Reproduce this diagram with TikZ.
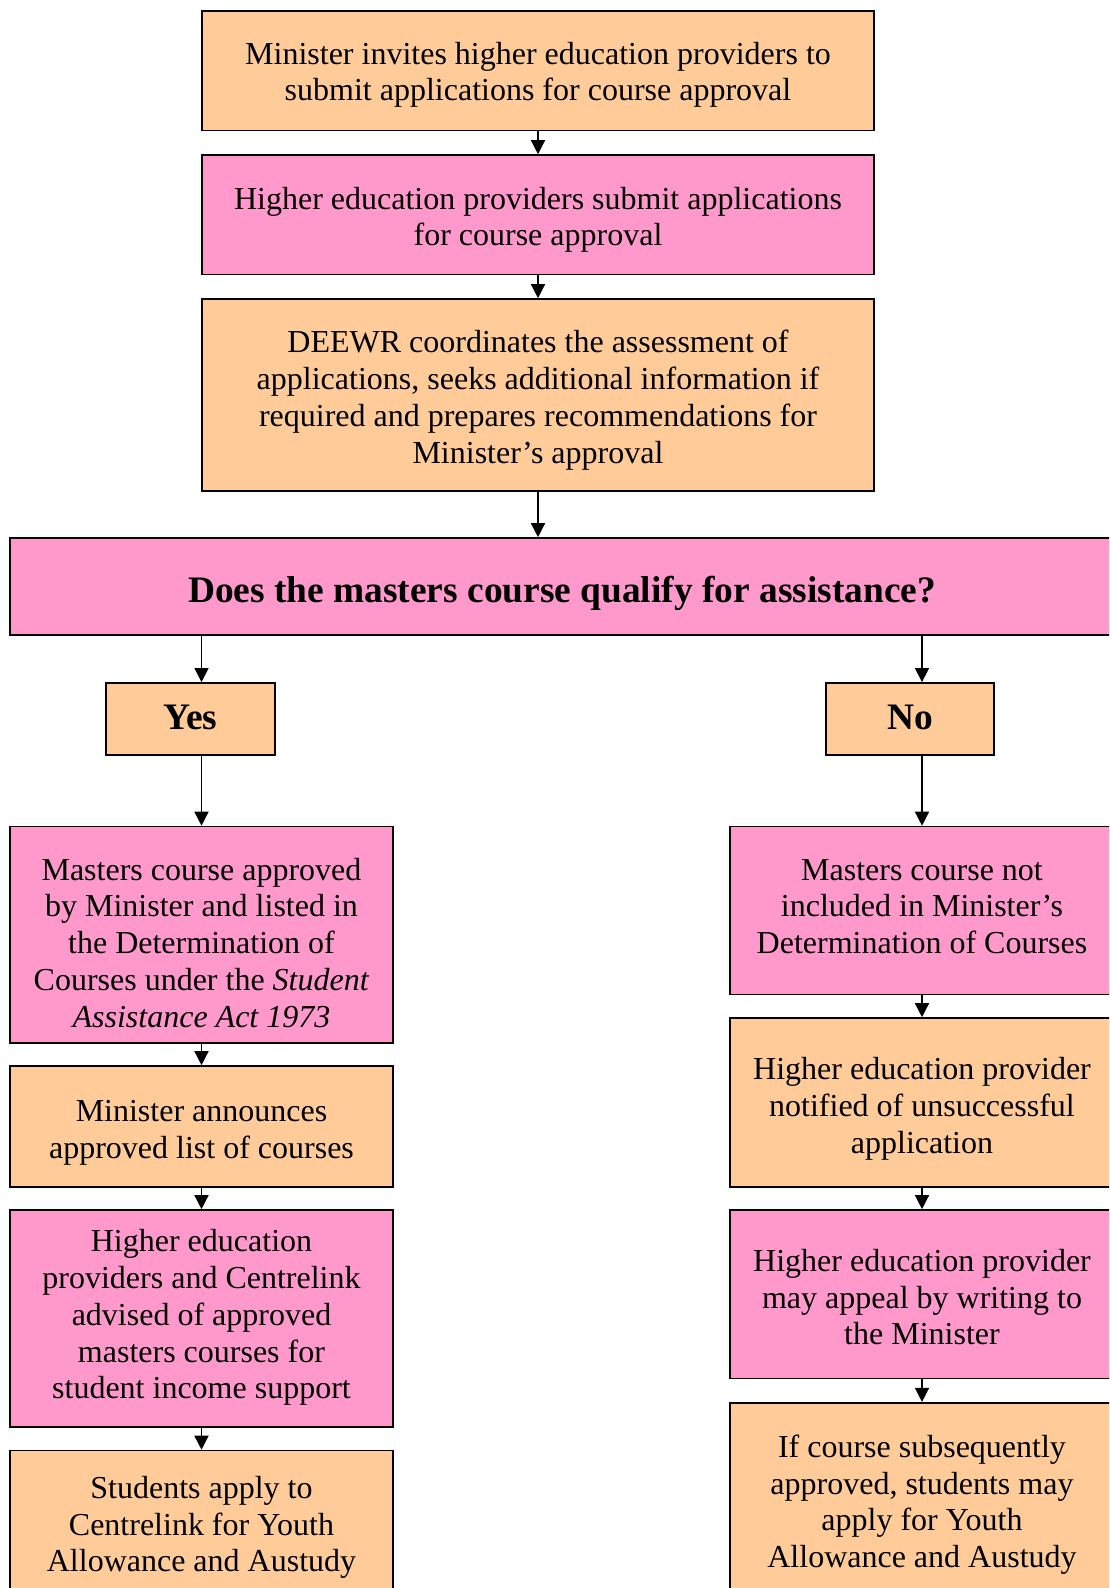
\documentclass[tikz,border=0pt]{standalone}
\usepackage{fontspec}
\setmainfont{Liberation Serif}
\usetikzlibrary{arrows.meta}
\definecolor{peach}{HTML}{FFCC99}
\definecolor{pinkbox}{HTML}{FF99CC}
\tikzset{
  basebox/.style={draw=black, line width=1.6pt, inner sep=0pt},
  pbox/.style={basebox, fill=peach},
  kbox/.style={basebox, fill=pinkbox},
  txt/.style={align=center, inner sep=0pt, font=\fontsize{32}{36.8}\selectfont},
  bigtext/.style={align=center, inner sep=0pt, font=\fontsize{37.4}{42}\selectfont\bfseries},
  arr/.style={line width=1.4pt, -{Triangle[length=14pt,width=14pt]}}
}
\begin{document}
\begin{tikzpicture}[x=1pt,y=-1pt]
\useasboundingbox (0,0) rectangle (1109,1588);
\clip (0,0) rectangle (1109,1588);
% top column
\node[pbox, minimum width=671.5pt, minimum height=119.6pt] (t1) at (538,70.8) {};
\node[txt] (t1x) at ([yshift=-4pt]t1.center)
  {Minister invites higher education providers to\\submit applications for course approval};
\node[kbox, minimum width=671.5pt, minimum height=119.5pt] (t2) at (538,214.75) {};
\node[txt] (t2x) at ([yshift=-5pt]t2.center)
  {Higher education providers submit applications\\for course approval};
\node[pbox, minimum width=671.5pt, minimum height=192pt] (t3) at (538,395) {};
\node[txt] (t3x) at ([yshift=-5pt]t3.center)
  {DEEWR coordinates the assessment of\\applications, seeks additional information if\\required and prepares recommendations for\\Minister’s approval};
% decision
\node[kbox, minimum width=1104pt, minimum height=97pt] (d) at (562,586.5) {};
\node[bigtext] (dx) at ([yshift=-7pt]d.center)
  {Does the masters course qualify for assistance?};
\node[pbox, minimum width=169pt, minimum height=72pt] (yes) at (190.3,718.9) {};
\node[bigtext] (yesx) at ([yshift=1pt]yes.center) {Yes};
\node[pbox, minimum width=168pt, minimum height=72pt] (no) at (910,718.9) {};
\node[bigtext] (nox) at ([yshift=1pt]no.center) {No};
% left column
\node[kbox, minimum width=383pt, minimum height=216.5pt] (l1) at (201.5,934.75) {};
\node[txt] (l1x) at ([yshift=-8pt]l1.center)
  {Masters course approved\\by Minister and listed in\\the Determination of\\Courses under the \textit{Student}\\\textit{Assistance Act 1973}};
\node[pbox, minimum width=383pt, minimum height=121pt] (l2) at (201.5,1126.5) {};
\node[txt] (l2x) at ([yshift=-6pt]l2.center)
  {Minister announces\\approved list of courses};
\node[kbox, minimum width=383pt, minimum height=217pt] (l3) at (201.5,1318.5) {};
\node[txt] (l3x) at ([yshift=1pt]l3.center)
  {Higher education\\providers and Centrelink\\advised of approved\\masters courses for\\student income support};
\node[pbox, minimum width=383pt, minimum height=150pt] (l4) at (201.5,1525.5) {};
\node[txt] (l4x) at ([yshift=-2pt]l4.center)
  {Students apply to\\Centrelink for Youth\\Allowance and Austudy};
% right column
\node[kbox, minimum width=384pt, minimum height=168pt] (r1) at (922,910.5) {};
\node[txt] (r1x) at ([yshift=4pt]r1.center)
  {Masters course not\\included in Minister’s\\Determination of Courses};
\node[pbox, minimum width=384pt, minimum height=169pt] (r2) at (922,1102.5) {};
\node[txt] (r2x) at ([yshift=-6pt]r2.center)
  {Higher education provider\\notified of unsuccessful\\application};
\node[kbox, minimum width=384pt, minimum height=168.5pt] (r3) at (922,1294.2) {};
\node[txt] (r3x) at ([yshift=-3pt]r3.center)
  {Higher education provider\\may appeal by writing to\\the Minister};
\node[pbox, minimum width=384pt, minimum height=197pt] (r4) at (922,1501.2) {};
\node[txt] (r4x) at ([yshift=-3.5pt]r4.center)
  {If course subsequently\\approved, students may\\apply for Youth\\Allowance and Austudy};
% connectors
\draw[arr] (t1.south) -- (t2.north);
\draw[arr] (t2.south) -- (t3.north);
\draw[arr] (t3.south) -- (t3.south |- d.north);
\draw[arr] (l1.north |- d.south) -- (l1.north |- yes.north);
\draw[arr] (l1.north |- yes.south) -- (l1.north);
\draw[arr] (l1.south) -- (l2.north);
\draw[arr] (l2.south) -- (l3.north);
\draw[arr] (l3.south) -- (l4.north);
\draw[arr] (r1.north |- d.south) -- (r1.north |- no.north);
\draw[arr] (r1.north |- no.south) -- (r1.north);
\draw[arr] (r1.south) -- (r2.north);
\draw[arr] (r2.south) -- (r3.north);
\draw[arr] (r3.south) -- (r4.north);
\end{tikzpicture}
\end{document}
